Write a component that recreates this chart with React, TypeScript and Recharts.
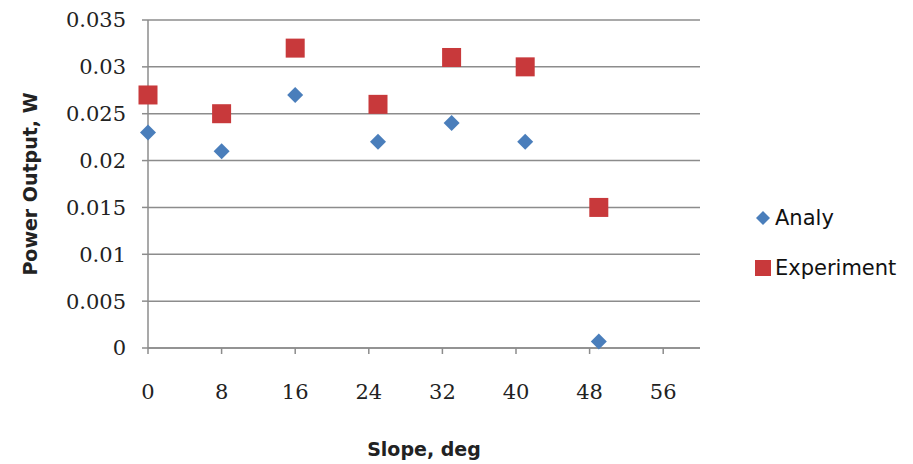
import { ScatterChart, Scatter, XAxis, YAxis, CartesianGrid, Legend } from 'recharts';

const slopes = [0, 8, 16, 25, 33, 41, 49];
const analy = [0.023, 0.021, 0.027, 0.022, 0.024, 0.022, 0.0007];
const experiment = [0.027, 0.025, 0.032, 0.026, 0.031, 0.03, 0.015];
const xTicks = [0, 8, 16, 24, 32, 40, 48, 56];
const yTicks = [0, 0.005, 0.01, 0.015, 0.02, 0.025, 0.03, 0.035];

const BLUE = '#4a7ebb';
const RED = '#c8393b';
const GRID = '#8c8c8c';

const analyData = slopes.map((s, i) => ({ slope: s, power: analy[i] }));
const experimentData = slopes.map((s, i) => ({ slope: s, power: experiment[i] }));

const tickStyle = { fontFamily: 'DejaVu Serif', fontSize: 21, fill: '#222' };
const titleStyle = { fontFamily: 'DejaVu Sans', fontSize: 19, fontWeight: 'bold', fill: '#222' };

function Diamond(props: any) {
  const { cx, cy } = props;
  const r = 8;
  return <path d={`M${cx},${cy - r} L${cx + r},${cy} L${cx},${cy + r} L${cx - r},${cy} Z`} fill={BLUE} />;
}

function Square(props: any) {
  const { cx, cy } = props;
  const h = 9.5;
  return <rect x={cx - h} y={cy - h} width={h * 2} height={h * 2} fill={RED} />;
}

function LegendBox() {
  const items = [
    { name: 'Analy', icon: <path d="M8,1 L15,8 L8,15 L1,8 Z" fill={BLUE} /> },
    { name: 'Experiment', icon: <rect x={0} y={0} width={16} height={16} fill={RED} /> },
  ];
  return (
    <div style={{ fontFamily: 'DejaVu Sans', fontSize: 21, color: '#111' }}>
      {items.map((it) => (
        <div key={it.name} style={{ display: 'flex', alignItems: 'center', height: 50 }}>
          <svg width={16} height={16} style={{ marginRight: 4 }}>{it.icon}</svg>
          <span>{it.name}</span>
        </div>
      ))}
    </div>
  );
}

export default function App() {
  return (
    <div style={{ position: 'absolute', left: 0, top: 0, background: '#fff' }}>
      <ScatterChart width={913} height={464} margin={{ top: 20, right: 213, bottom: 0, left: 0 }}>
        <CartesianGrid vertical={false} stroke={GRID} strokeWidth={1.5} />
        <XAxis
          type="number"
          dataKey="slope"
          domain={[0, 60]}
          ticks={xTicks}
          height={116}
          tick={tickStyle}
          tickSize={6}
          tickMargin={30}
          stroke={GRID}
          strokeWidth={1.5}
          label={{ value: 'Slope, deg', position: 'insideBottom', offset: 8, style: titleStyle }}
        />
        <YAxis
          type="number"
          dataKey="power"
          domain={[0, 0.035]}
          ticks={yTicks}
          width={148}
          tick={tickStyle}
          tickSize={6}
          tickMargin={16}
          tickFormatter={(v: number) => String(v)}
          stroke={GRID}
          strokeWidth={1.5}
          label={{ value: 'Power Output, W', angle: -90, position: 'insideLeft', offset: 30, style: { ...titleStyle, textAnchor: 'middle' } }}
        />
        <Legend
          layout="horizontal"
          align="center"
          verticalAlign="middle"
          wrapperStyle={{ left: 755, top: 193, width: 158 }}
          content={() => <LegendBox />}
        />
        <Scatter name="Analy" data={analyData} fill={BLUE} shape={Diamond} isAnimationActive={false} />
        <Scatter name="Experiment" data={experimentData} fill={RED} shape={Square} isAnimationActive={false} />
      </ScatterChart>
    </div>
  );
}
